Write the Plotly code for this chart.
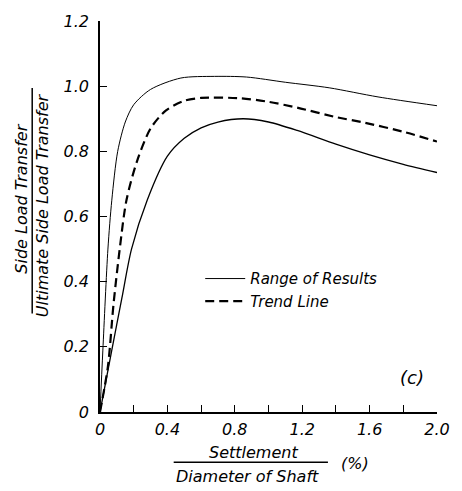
import plotly.graph_objects as go

# Upper bound of range of results
upper_x = [0, 0.017, 0.047, 0.07, 0.105, 0.15, 0.2, 0.3, 0.48, 0.68, 0.87, 1.1, 1.36, 1.65, 2.0]
upper_y = [0, 0.19, 0.50, 0.65, 0.80, 0.89, 0.943, 0.99, 1.025, 1.03, 1.028, 1.012, 0.995, 0.967, 0.94]

# Trend line
trend_x = [0, 0.047, 0.08, 0.117, 0.157, 0.22, 0.3, 0.39, 0.5, 0.6, 0.83, 1.0, 1.17, 1.4, 1.56, 1.8, 2.0]
trend_y = [0, 0.14, 0.33, 0.50, 0.65, 0.77, 0.87, 0.925, 0.955, 0.964, 0.963, 0.952, 0.934, 0.905, 0.889, 0.86, 0.83]

# Lower bound of range of results
lower_x = [0, 0.07, 0.13, 0.187, 0.28, 0.40, 0.5, 0.6, 0.7, 0.85, 1.0, 1.17, 1.4, 1.6, 1.8, 2.0]
lower_y = [0, 0.19, 0.35, 0.50, 0.65, 0.785, 0.84, 0.872, 0.89, 0.90, 0.89, 0.864, 0.822, 0.789, 0.76, 0.735]

x_ticks = [0, 0.2, 0.4, 0.6, 0.8, 1.0, 1.2, 1.4, 1.6, 1.8, 2.0]
x_ticktext = ["0", "", "0.4", "", "0.8", "", "1.2", "", "1.6", "", "2.0"]
y_ticks = [0, 0.2, 0.4, 0.6, 0.8, 1.0, 1.2]
y_ticktext = ["0", "0.2", "0.4", "0.6", "0.8", "1.0", "1.2"]

FONT = "DejaVu Sans"
ital = dict(family=FONT, size=16, color="black", style="italic")

fig = go.Figure()
fig.add_trace(go.Scatter(x=upper_x, y=upper_y, mode="lines", name="Range of Results",
                         line=dict(color="black", width=1, shape="spline", smoothing=0.8),
                         legendgroup="r"))
fig.add_trace(go.Scatter(x=trend_x, y=trend_y, mode="lines", name="Trend Line",
                         line=dict(color="black", width=2.2, dash="9px,5px", shape="spline", smoothing=0.8)))
fig.add_trace(go.Scatter(x=lower_x, y=lower_y, mode="lines", name="Range of Results",
                         line=dict(color="black", width=1.3, shape="spline", smoothing=0.8),
                         legendgroup="r", showlegend=False))

# plot area: x 100..443, y 15..412
PW, PH = 343, 397
def px(x):
    return (x - 100) / PW
def py(y):
    return (412 - y) / PH

fig.update_layout(
    width=462, height=491,
    margin=dict(l=100, r=19, t=15, b=79),
    plot_bgcolor="white", paper_bgcolor="white",
    font=dict(family=FONT, color="black"),
    showlegend=True,
    legend=dict(x=px(202), y=py(260), xanchor="left", yanchor="top",
                bgcolor="rgba(0,0,0,0)", font=dict(family=FONT, size=15, style="italic"),
                tracegroupgap=0, itemwidth=40),
    xaxis=dict(range=[0, 2.0], tickvals=x_ticks, ticktext=x_ticktext,
               ticks="inside", ticklen=7, tickwidth=1.2, tickcolor="black",
               showline=True, linecolor="black", linewidth=1.6,
               showgrid=False, zeroline=False, tickfont=ital, ticklabelstandoff=2),
    yaxis=dict(range=[0, 1.2], tickvals=y_ticks, ticktext=y_ticktext,
               ticks="inside", ticklen=7, tickwidth=1.2, tickcolor="black",
               showline=True, linecolor="black", linewidth=1.6,
               showgrid=False, zeroline=False, tickfont=ital, ticklabelstandoff=6),
)

ann_font = dict(family=FONT, size=16, color="black", style="italic")
def ann(text, x, y, angle=0, font=ann_font):
    fig.add_annotation(text=text, xref="paper", yref="paper", x=px(x), y=py(y),
                       xanchor="center", yanchor="middle", textangle=angle,
                       showarrow=False, font=font)

# y-axis title as a fraction
ann("Side Load Transfer", 20, 195, -90)
ann("Ultimate Side Load Transfer", 41, 202, -90)
fig.add_shape(type="line", xref="paper", yref="paper",
              x0=px(31), x1=px(31), y0=py(83), y1=py(312),
              line=dict(color="black", width=1.5))
# x-axis title as a fraction
ann("Settlement", 256, 453)
ann("Diameter of Shaft", 250, 477)
fig.add_shape(type="line", xref="paper", yref="paper",
              x0=px(175), x1=px(332), y0=py(463), y1=py(463),
              line=dict(color="black", width=1.5))
ann("(%)", 360, 464)
ann("(c)", 418, 377, font=dict(family=FONT, size=18, color="black", style="italic"))

fig.write_html("out.html")
